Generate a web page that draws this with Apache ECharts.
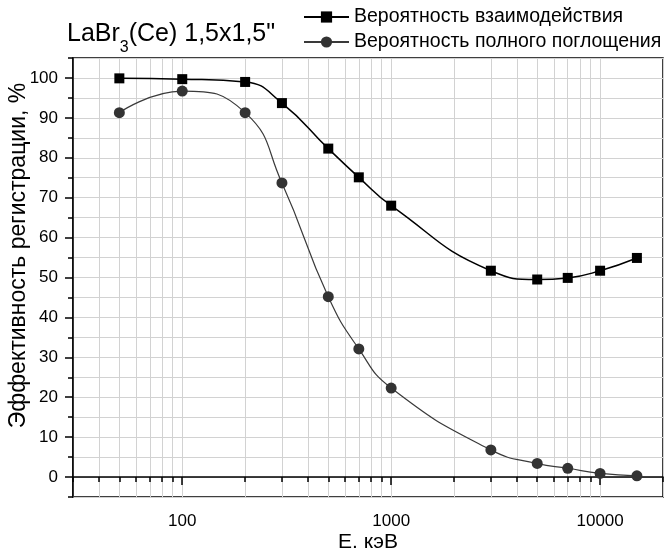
<!DOCTYPE html>
<html><head><meta charset="utf-8">
<script src="https://cdn.jsdelivr.net/npm/echarts@6/dist/echarts.min.js"></script>
<style>html,body{margin:0;padding:0;background:#fff}#c{width:665px;height:554px}</style>
</head><body><div id="c"></div>
<script>
const energies = [50, 100, 200, 300, 500, 700, 1000, 3000, 5000, 7000, 10000, 15000];
const interaction = [99.9, 99.7, 99.0, 93.7, 82.3, 75.1, 68.0, 51.7, 49.5, 49.9, 51.7, 54.9];
const absorption = [91.3, 96.7, 91.3, 73.7, 45.2, 32.1, 22.3, 6.8, 3.4, 2.2, 0.9, 0.3];
const seriesNames = ['Вероятность взаимодействия', 'Вероятность полного поглощения'];
const xMajorTicks = [100, 1000, 10000];
const xMinorTicks = [30, 40, 50, 60, 70, 80, 90, 200, 300, 400, 500, 600, 700, 800, 900,
  2000, 3000, 4000, 5000, 6000, 7000, 8000, 9000, 20000];
const yMajorTicks = [0, 10, 20, 30, 40, 50, 60, 70, 80, 90, 100];

const FONT = '"Liberation Sans", Arial, sans-serif';
const chart = echarts.init(document.getElementById('c'), null, {renderer: 'canvas'});
const gridLine = {show: true, lineStyle: {color: '#d2d2d2', width: 1}};
const axisLine = {show: true, lineStyle: {color: '#000', width: 1.5}};

chart.setOption({
  animation: false,
  backgroundColor: '#fff',
  title: {
    text: 'LaBr{sub|3}(Ce) 1,5x1,5"',
    left: 67, top: 12, padding: 0,
    textStyle: {
      fontFamily: FONT, fontSize: 25, fontWeight: 'normal', color: '#000',
      rich: {sub: {fontFamily: FONT, fontSize: 16, color: '#000', padding: [28, 0, 0, 0]}}
    }
  },
  legend: {
    left: 303, top: 7, orient: 'vertical', itemGap: 5, padding: 0,
    itemWidth: 45, itemHeight: 14,
    textStyle: {fontFamily: FONT, fontSize: 19.5, color: '#000'},
    data: seriesNames
  },
  grid: {left: 73, right: 2, top: 58, bottom: 57, show: true, borderColor: '#000', borderWidth: 1.5,
    containLabel: false, outerBoundsMode: 'none'},
  xAxis: [{
    type: 'log', min: 30, max: 20000, logBase: 10,
    name: 'Е. кэВ', nameLocation: 'middle', nameGap: 35, nameMoveOverlap: false,
    nameTextStyle: {fontFamily: FONT, fontSize: 21, color: '#000'},
    axisLine: axisLine,
    axisTick: {show: true, length: 8, customValues: xMajorTicks, lineStyle: {color: '#000', width: 1.5}},
    axisLabel: {customValues: xMajorTicks, formatter: v => String(v), fontFamily: FONT, fontSize: 17, color: '#000', margin: 16},
    splitLine: gridLine
  }, {
    type: 'log', min: 30, max: 20000, logBase: 10, position: 'bottom',
    axisLine: {show: false},
    axisTick: {show: true, length: 5, customValues: xMinorTicks, lineStyle: {color: '#000', width: 1.5}},
    axisLabel: {show: false},
    splitLine: gridLine
  }],
  yAxis: [{
    type: 'value', min: -5, max: 105, interval: 5,
    name: 'Эффективность регистрации, %', nameLocation: 'middle', nameGap: 43, nameRotate: 90,
    nameMoveOverlap: false,
    nameTextStyle: {fontFamily: FONT, fontSize: 23, color: '#000', padding: [0, 0, 0, 44]},
    axisLine: axisLine,
    axisTick: {show: true, length: 8, customValues: yMajorTicks, lineStyle: {color: '#000', width: 1.5}},
    axisLabel: {customValues: yMajorTicks, fontFamily: FONT, fontSize: 17, color: '#000', margin: 15},
    splitLine: {show: false}
  }, {
    type: 'value', min: -5, max: 105, interval: 5, position: 'left',
    axisLine: {show: false},
    axisTick: {show: true, length: 5, lineStyle: {color: '#000', width: 1.5}},
    axisLabel: {show: false},
    splitLine: gridLine
  }],
  series: [{
    name: seriesNames[0], type: 'line', smooth: 0.5,
    data: energies.map((e, i) => [e, interaction[i]]),
    symbol: 'rect', symbolSize: 10,
    lineStyle: {color: '#000', width: 1.5},
    itemStyle: {color: '#000'}
  }, {
    name: seriesNames[1], type: 'line', smooth: 0.5,
    data: energies.map((e, i) => [e, absorption[i]]),
    symbol: 'circle', symbolSize: 11,
    lineStyle: {color: '#3a3a3a', width: 1.2},
    itemStyle: {color: '#333'}
  }]
});
</script></body></html>
